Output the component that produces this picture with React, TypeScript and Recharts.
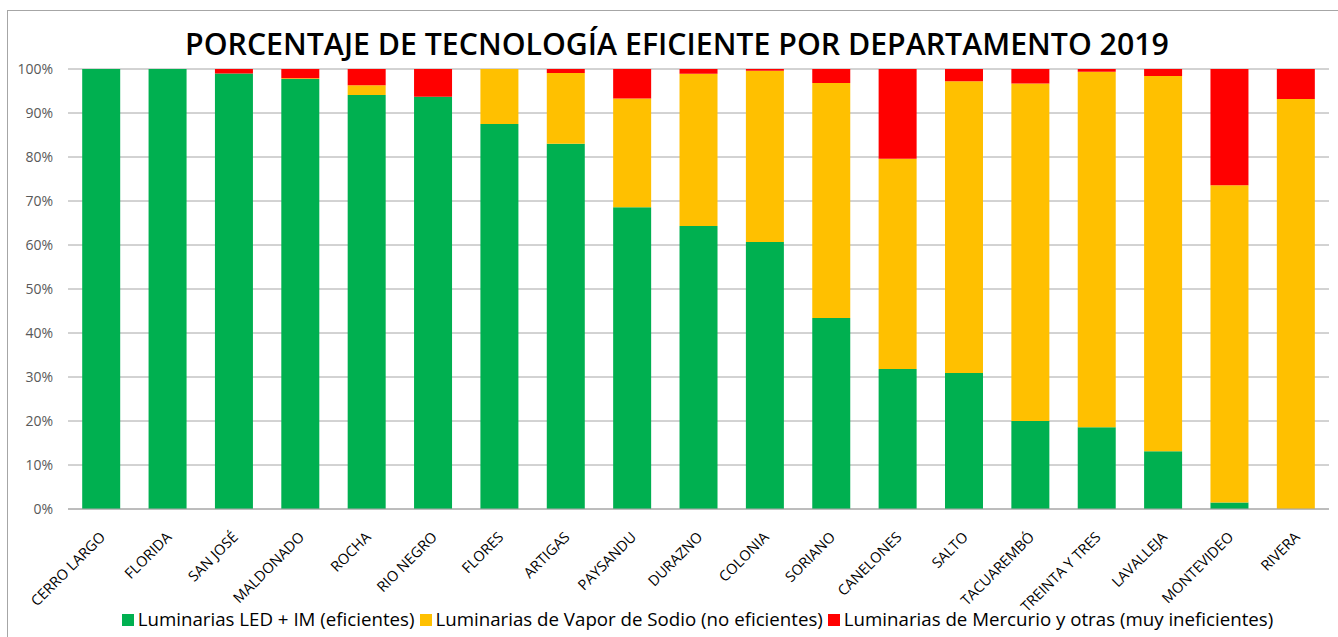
import { BarChart, Bar, XAxis, YAxis, CartesianGrid } from "recharts";

const departamentos = [
  "CERRO LARGO",
  "FLORIDA",
  "SAN JOSÉ",
  "MALDONADO",
  "ROCHA",
  "RIO NEGRO",
  "FLORES",
  "ARTIGAS",
  "PAYSANDU",
  "DURAZNO",
  "COLONIA",
  "SORIANO",
  "CANELONES",
  "SALTO",
  "TACUAREMBÓ",
  "TREINTA Y TRES",
  "LAVALLEJA",
  "MONTEVIDEO",
  "RIVERA",
];

// % of luminaires per department
const led = [100, 100, 99.0, 97.7, 94.1, 93.7, 87.5, 83.0, 68.6, 64.3, 60.7, 43.4, 31.8, 30.9, 20.0, 18.6, 13.1, 1.5, 0];
const sodio = [0, 0, 0, 0.2, 2.2, 0, 12.5, 16.1, 24.7, 34.6, 38.9, 53.4, 47.8, 66.3, 76.7, 80.8, 85.3, 72.1, 93.2];
const mercurio = [0, 0, 1.0, 2.1, 3.7, 6.3, 0, 0.9, 6.7, 1.1, 0.4, 3.2, 20.4, 2.8, 3.3, 0.6, 1.6, 26.4, 6.8];

const yTicks = [0, 10, 20, 30, 40, 50, 60, 70, 80, 90, 100];

const series = [
  { key: "led", name: "Luminarias LED + IM (eficientes)", color: "#00b050" },
  { key: "sodio", name: "Luminarias de Vapor de Sodio (no eficientes)", color: "#ffc000" },
  { key: "mercurio", name: "Luminarias de Mercurio y otras (muy ineficientes)", color: "#ff0000" },
];

const data = departamentos.map((d, i) => ({
  name: d,
  led: led[i],
  sodio: sodio[i],
  mercurio: mercurio[i],
}));

const FONT = "'Open Sans', sans-serif";

function DeptTick({ x, y, payload }: any) {
  const ax = x + 5;
  const ay = y + 21;
  return (
    <text
      x={ax}
      y={ay}
      transform={`rotate(-45, ${ax}, ${ay})`}
      textAnchor="end"
      fontSize={14.5}
      fontFamily={FONT}
      fill="#000"
    >
      {payload.value}
    </text>
  );
}

export default function App() {
  return (
    <div
      style={{
        position: "absolute",
        left: 0,
        top: 0,
        width: 1338,
        height: 637,
        overflow: "hidden",
        background: "#fff",
        fontFamily: FONT,
      }}
    >
      <div
        style={{
          position: "absolute",
          left: 7,
          top: 10,
          width: 1400,
          height: 700,
          border: "1px solid #a6a6a6",
        }}
      />
      <div
        style={{
          position: "absolute",
          left: 0,
          top: 24,
          width: 1354,
          textAlign: "center",
          fontSize: 30.3,
          fontWeight: 600,
          color: "#000",
          lineHeight: "40px",
        }}
      >
        PORCENTAJE DE TECNOLOGÍA EFICIENTE POR DEPARTAMENTO 2019
      </div>
      <div style={{ position: "absolute", left: 0, top: 0 }}>
        <BarChart
          width={1338}
          height={637}
          data={data}
          margin={{ top: 69, right: 9, bottom: 18, left: 8 }}
          barCategoryGap="21.4%"
        >
          <CartesianGrid vertical={false} stroke="#a6a6a6" strokeWidth={1} />
          <XAxis
            dataKey="name"
            interval={0}
            height={110}
            tickLine={false}
            axisLine={{ stroke: "#a6a6a6" }}
            tick={<DeptTick />}
          />
          <YAxis
            width={60}
            domain={[0, 100]}
            ticks={yTicks}
            tickFormatter={(v) => `${v}%`}
            axisLine={false}
            tickLine={false}
            tickSize={0}
            tickMargin={15}
            tick={{ fontSize: 14, fill: "#595959", fontFamily: FONT }}
          />
          {series.map((s) => (
            <Bar
              key={s.key}
              dataKey={s.key}
              name={s.name}
              stackId="a"
              fill={s.color}
              isAnimationActive={false}
            />
          ))}
        </BarChart>
      </div>
      <div
        style={{
          position: "absolute",
          left: 0,
          top: 606,
          width: 1400,
          textAlign: "center",
          fontSize: 18.7,
          lineHeight: "26px",
          color: "#000",
          whiteSpace: "nowrap",
        }}
      >
        {series.map((s) => (
          <span key={s.key} style={{ marginRight: 5 }}>
            <span
              style={{
                display: "inline-block",
                width: 12,
                height: 12,
                background: s.color,
                marginRight: 4,
              }}
            />
            {s.name}
          </span>
        ))}
      </div>
    </div>
  );
}
